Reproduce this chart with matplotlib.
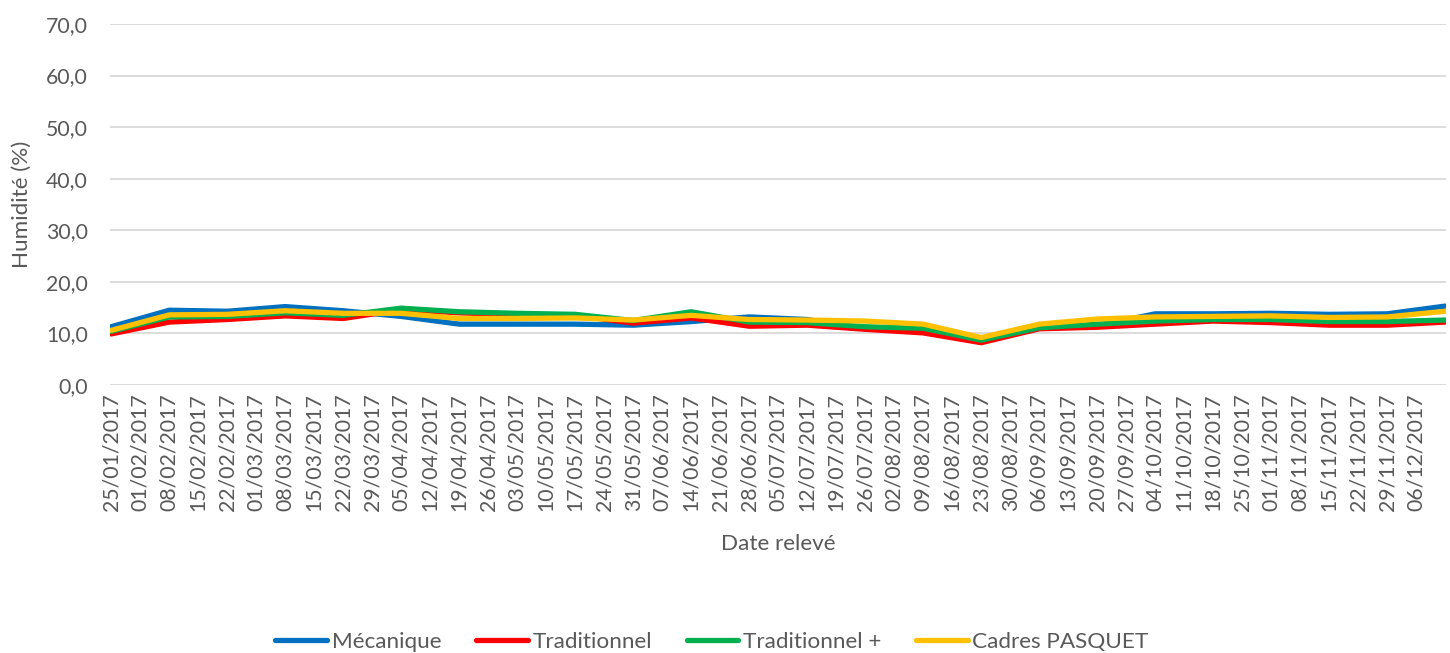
import matplotlib
matplotlib.use("Agg")
from matplotlib import pyplot as plt
import matplotlib.dates as mdates
from matplotlib.ticker import FuncFormatter
import numpy as np
import datetime as dt

# Relevés tous les 15 jours
dates = [dt.date(2017, 1, 25) + dt.timedelta(days=14 * i) for i in range(24)]

mecanique = [11.3, 14.5, 14.3, 15.2, 14.4, 13.3, 11.8, 11.8, 11.8, 11.6, 12.3, 13.2,
             12.7, 10.9, 10.6, 8.6, 11.0, 11.5, 13.8, 13.8, 13.9, 13.7, 13.8, 15.3]
traditionnel = [9.9, 12.2, 12.7, 13.4, 12.9, 14.6, 14.0, 13.6, 13.5, 12.0, 13.0, 11.4,
                11.6, 10.8, 10.1, 8.2, 10.9, 11.2, 11.8, 12.4, 12.1, 11.6, 11.6, 12.2]
traditionnel_plus = [10.4, 13.2, 13.3, 14.0, 13.5, 14.9, 14.2, 13.9, 13.7, 12.5, 14.2, 12.2,
                     12.1, 11.3, 11.0, 8.7, 11.1, 11.8, 12.4, 12.7, 12.7, 12.3, 12.3, 12.6]
cadres_pasquet = [10.6, 13.6, 13.7, 14.4, 13.9, 13.9, 12.9, 12.9, 13.0, 12.6, 13.5, 12.7,
                  12.6, 12.4, 11.8, 9.2, 11.8, 12.8, 13.2, 13.3, 13.4, 13.1, 13.2, 14.3]

series = [("Mécanique", mecanique, "#0070C0"),
          ("Traditionnel", traditionnel, "#FF0000"),
          ("Traditionnel +", traditionnel_plus, "#00B050"),
          ("Cadres PASQUET", cadres_pasquet, "#FFC000")]

tick_dates = [dt.date(2017, 1, 25) + dt.timedelta(days=7 * i) for i in range(46)]

grey = "#595959"
plt.rcParams['font.family'] = ['Lato', 'DejaVu Sans']

fig = plt.figure(figsize=(14.5, 6.53), dpi=100)
ax = fig.add_axes([110 / 1450, 1 - 385 / 653, 1336 / 1450, 361 / 653])

for name, vals, col in series:
    ax.plot(dates, vals, color=col, lw=3.8, label=name, solid_capstyle='round',
            solid_joinstyle='round')

ax.set_ylim(0, 70)
ax.set_yticks(np.arange(0, 71, 10))
ax.yaxis.set_major_formatter(FuncFormatter(lambda v, p: f"{v:.1f}".replace(".", ",")))
ax.grid(axis='y', color='#D9D9D9', lw=1.3)
ax.set_axisbelow(True)

ax.set_xlim(mdates.date2num(dt.date(2017, 1, 25)) - 0.3, mdates.date2num(dt.date(2017, 12, 13)) + 0.2)
ax.set_xticks([mdates.date2num(d) for d in tick_dates])
ax.set_xticklabels([d.strftime("%d/%m/%Y") for d in tick_dates], rotation=90)

for s in ax.spines.values():
    s.set_visible(False)
ax.tick_params(length=0, colors=grey, labelsize=15.3)
ax.tick_params(axis='y', pad=16)
ax.tick_params(axis='x', pad=6)

ax.set_ylabel("Humidité (%)", color=grey, fontsize=16.2, labelpad=10)
ax.set_xlabel("Date relevé", color=grey, fontsize=16.2, labelpad=16)

leg = fig.legend(loc='lower center', bbox_to_anchor=(0.491, -0.03), ncol=4, frameon=False,
                 fontsize=16.2, handlelength=2.3, columnspacing=1.55, handletextpad=0.2)
for t in leg.get_texts():
    t.set_color(grey)

fig.savefig("out.png", dpi=100)
